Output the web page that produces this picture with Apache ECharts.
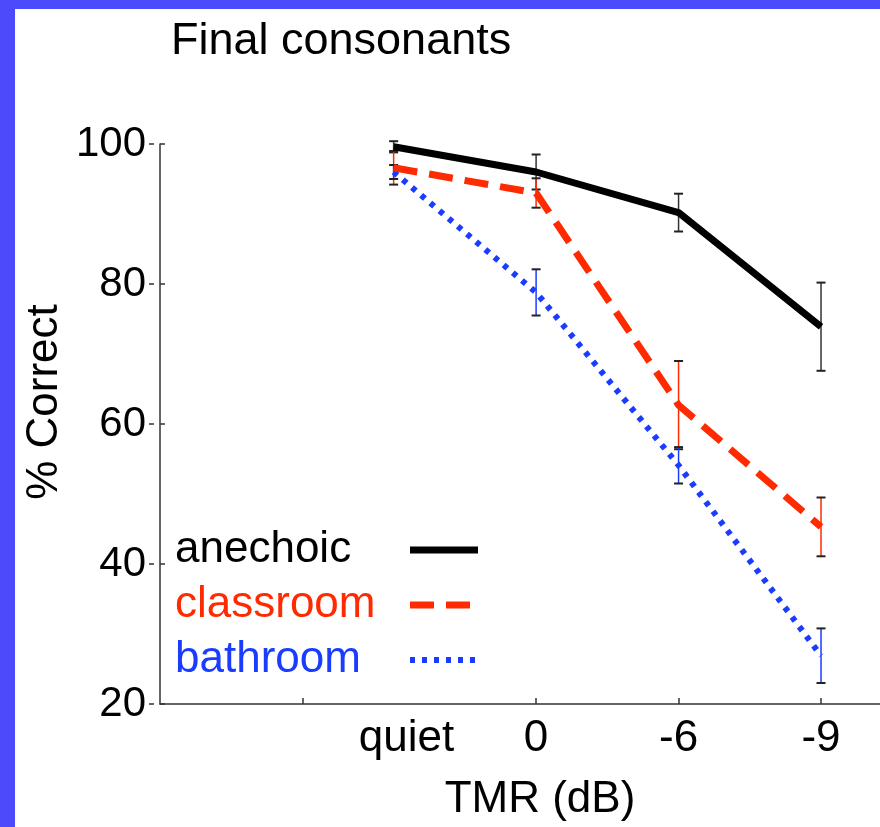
<!DOCTYPE html>
<html>
<head>
<meta charset="utf-8">
<script src="https://cdn.jsdelivr.net/npm/echarts@6/dist/echarts.min.js"></script>
<style>
html,body{margin:0;padding:0;background:#fff;}
#chart{width:880px;height:827px;}
</style>
</head>
<body>
<div id="chart"></div>
<script>
// ---- data ----
var categories = ['quiet', '0', '-6', '-9'];
var seriesNames = ['anechoic', 'classroom', 'bathroom'];
var anechoic = [99.6, 96.0, 90.2, 73.9];
var anechoicErr = [0.8, 2.5, 2.7, 6.3];
var classroom = [96.6, 93.0, 62.7, 45.3];
var classroomErr = [2.4, 2.1, 6.3, 4.2];
var bathroom = [96.0, 78.8, 54.1, 26.9];
var bathroomErr = [1.0, 3.3, 2.6, 3.9];
var yTicks = [20, 40, 60, 80, 100];

// category index -> x position (quiet at -1, "0" at 0, ...)
function pos(i) { return i - 1; }

var colors = { anechoic: '#000000', classroom: '#ff2a00', bathroom: '#1a3cff' };
var barColors = { anechoic: '#333333', classroom: '#ff2a00', bathroom: '#1a3cff' };
var lineStyles = {
  anechoic: { width: 7, type: 'solid' },
  classroom: { width: 7, type: [24, 12] },
  bathroom: { width: 6, type: [5, 7] }
};
var FONT = 'Liberation Sans, Arial, Helvetica, sans-serif';

function lineData(vals) { return vals.map(function (v, i) { return [pos(i), v]; }); }
function errData(vals, errs) { return vals.map(function (v, i) { return [pos(i), v, errs[i]]; }); }

function errSeries(name, vals, errs) {
  return {
    type: 'custom',
    name: name + ' err',
    z: 1,
    silent: true,
    data: errData(vals, errs),
    renderItem: function (params, api) {
      var x = api.value(0), v = api.value(1), e = api.value(2);
      var top = api.coord([x, v + e]);
      var bot = api.coord([x, v - e]);
      var hw = 4.5;
      return {
        type: 'group',
        children: [
          { type: 'line', shape: { x1: top[0], y1: top[1], x2: bot[0], y2: bot[1] }, style: { stroke: barColors[name], lineWidth: 1.5 } },
          { type: 'line', shape: { x1: top[0] - hw, y1: top[1], x2: top[0] + hw, y2: top[1] }, style: { stroke: '#222', lineWidth: 2 } },
          { type: 'line', shape: { x1: bot[0] - hw, y1: bot[1], x2: bot[0] + hw, y2: bot[1] }, style: { stroke: '#222', lineWidth: 2 } }
        ]
      };
    }
  };
}

var rich = {};
seriesNames.forEach(function (n) {
  rich[n] = { color: colors[n], fontSize: 44, fontFamily: FONT, width: 230, align: 'left', lineHeight: 44 };
});

var chart = echarts.init(document.getElementById('chart'));
var option = {
  backgroundColor: '#ffffff',
  animation: false,
  title: {
    text: 'Final consonants',
    left: 171, top: 19, padding: 0,
    textStyle: { fontSize: 45, fontWeight: 'normal', color: '#000', fontFamily: FONT }
  },
  graphic: [
    { type: 'rect', left: 0, top: 0, shape: { width: 15, height: 827 }, style: { fill: '#4b4bfc' }, z: 100 },
    { type: 'rect', left: 0, top: 0, shape: { width: 880, height: 9 }, style: { fill: '#4b4bfc' }, z: 100 }
  ],
  legend: {
    orient: 'vertical',
    left: 175, top: 528, padding: 0,
    itemGap: 11,
    itemWidth: 68, itemHeight: 14,
    align: 'right',
    itemStyle: { opacity: 0 },
    data: seriesNames.map(function (n) {
      return { name: n, lineStyle: { color: colors[n], width: lineStyles[n].width, type: lineStyles[n].type } };
    }),
    formatter: function (name) { return '{' + name + '|' + name + '}'; },
    textStyle: { fontSize: 44, fontFamily: FONT, rich: rich }
  },
  grid: { left: 160, top: 144, right: 0, bottom: 122, containLabel: false },
  xAxis: {
    type: 'value',
    min: -2.64, max: 2.414,
    splitLine: { show: false },
    axisLine: { show: true, onZero: false, lineStyle: { color: '#333', width: 1.5 } },
    axisTick: { show: true, inside: true, length: 6, customValues: [-1.64, 0, 1, 2], lineStyle: { color: '#333', width: 1.5 } },
    axisLabel: {
      customValues: [-0.91, 0, 1, 2],
      margin: 13,
      fontSize: 44, color: '#000', fontFamily: FONT,
      formatter: function (v) { return categories[Math.round(v) + 1]; }
    },
    name: 'TMR (dB)',
    nameLocation: 'middle',
    nameGap: 74,
    nameTextStyle: { fontSize: 44, color: '#000', fontFamily: FONT, padding: [0, 0, 0, 40] }
  },
  yAxis: [
    {
      type: 'value', min: 20, max: 100, interval: 20,
      splitLine: { show: false },
      axisLine: { show: true, onZero: false, lineStyle: { color: '#333', width: 1.5 } },
      axisTick: { show: true, inside: true, length: 5, lineStyle: { color: '#333', width: 1.5 } },
      axisLabel: { show: false },
      name: '% Correct',
      nameLocation: 'middle',
      nameRotate: 90,
      nameGap: 93,
      nameTextStyle: { fontSize: 44, color: '#000', fontFamily: FONT, padding: [0, 0, 0, 44] }
    },
    {
      type: 'value', min: 20, max: 100, interval: 20,
      position: 'left', offset: 6,
      splitLine: { show: false },
      axisLine: { show: false, onZero: false },
      axisTick: { show: true, inside: false, length: 5, lineStyle: { color: '#333', width: 1.5 } },
      axisLabel: {
        margin: 8, fontSize: 42, color: '#000', fontFamily: FONT,
        customValues: yTicks
      }
    }
  ],
  series: [
    errSeries('anechoic', anechoic, anechoicErr),
    errSeries('classroom', classroom, classroomErr),
    errSeries('bathroom', bathroom, bathroomErr),
    {
      name: 'anechoic', type: 'line', z: 5, symbol: 'none',
      data: lineData(anechoic),
      lineStyle: { color: colors.anechoic, width: lineStyles.anechoic.width, type: lineStyles.anechoic.type },
      itemStyle: { color: colors.anechoic }
    },
    {
      name: 'classroom', type: 'line', z: 4, symbol: 'none',
      data: lineData(classroom),
      lineStyle: { color: colors.classroom, width: lineStyles.classroom.width, type: lineStyles.classroom.type },
      itemStyle: { color: colors.classroom }
    },
    {
      name: 'bathroom', type: 'line', z: 3, symbol: 'none',
      data: lineData(bathroom),
      lineStyle: { color: colors.bathroom, width: lineStyles.bathroom.width, type: lineStyles.bathroom.type },
      itemStyle: { color: colors.bathroom }
    }
  ]
};
chart.setOption(option);
</script>
</body>
</html>
